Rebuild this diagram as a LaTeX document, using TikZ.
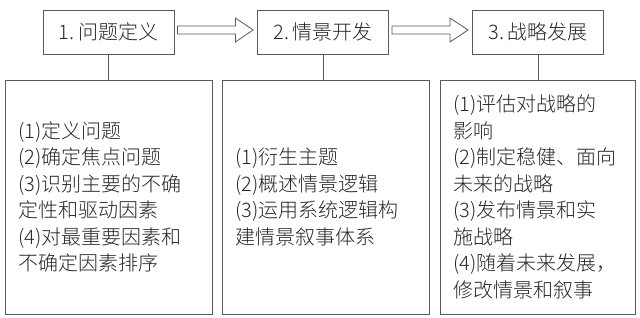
\documentclass[tikz,border=0pt]{standalone}
\usepackage{fontspec}
\setmainfont{Noto Sans CJK SC}[UprightFont=* Light]
\usetikzlibrary{positioning, calc}
\definecolor{lineGray}{HTML}{5A5A5A}
\definecolor{textGray}{HTML}{262626}

\tikzset{
	stage/.style={draw=lineGray, line width=0.8pt, minimum width=131pt,
		minimum height=44pt, inner sep=0pt, text=textGray,
		font=\fontsize{20}{26.5}\selectfont},
	detail/.style={draw=lineGray, line width=0.8pt, minimum height=234pt,
		inner xsep=13pt, inner ysep=0pt, align=left, text=textGray,
		font=\fontsize{20}{26.5}\selectfont},
	blockarr/.style={draw=lineGray, line width=0.8pt, fill=white, line join=miter},
	link/.style={draw=lineGray, line width=0.8pt}
}

\begin{document}
\begin{tikzpicture}[x=1pt, y=-1pt]
	\useasboundingbox (0,0) rectangle (640,317);
	% top row
	\node[stage] (p1) at (108.5,32) {1.\,问题定义};
	\node[stage] (p2) at (323,32) {2.\,情景开发};
	\node[stage] (p3) at (538,32) {3.\,战略发展};
	% detail boxes
	\node[detail, text width=181pt] (d1) at (108.5,197)
	{(1)定义问题\\
		(2)确定焦点问题\\
		(3)识别主要的不确\\
		定性和驱动因素\\
		(4)对最重要因素和\\
		不确定因素排序};
	\node[detail, text width=181.5pt] (d2) at (326,197)
	{(1)衍生主题\\
		(2)概述情景逻辑\\
		(3)运用系统逻辑构\\
		建情景叙事体系};
	\node[detail, text width=169pt] (d3) at (537.5,197)
	{(1)评估对战略的\\
		影响\\
		(2)制定稳健、面向\\
		未来的战略\\
		(3)发布情景和实\\
		施战略\\
		(4)随着未来发展，\\
		修改情景和叙事};
	% links
	\foreach \a/\b in {p1/d1, p2/d2, p3/d3}
		\draw[link] (\a.south) -- (\a.south |- \b.north);
	% hollow arrows between stages
	\foreach \a/\b in {p1/p2, p2/p3}
		\draw[blockarr] ($(\a.east)+(3,-6)$) -- ++(58,0) -- ++(0,-8)
			-- ($(\b.west)+(-4,-2)$) -- ($(\a.east)+(61,10)$) -- ++(0,-8)
			-- ($(\a.east)+(3,2)$) -- cycle;
\end{tikzpicture}
\end{document}
